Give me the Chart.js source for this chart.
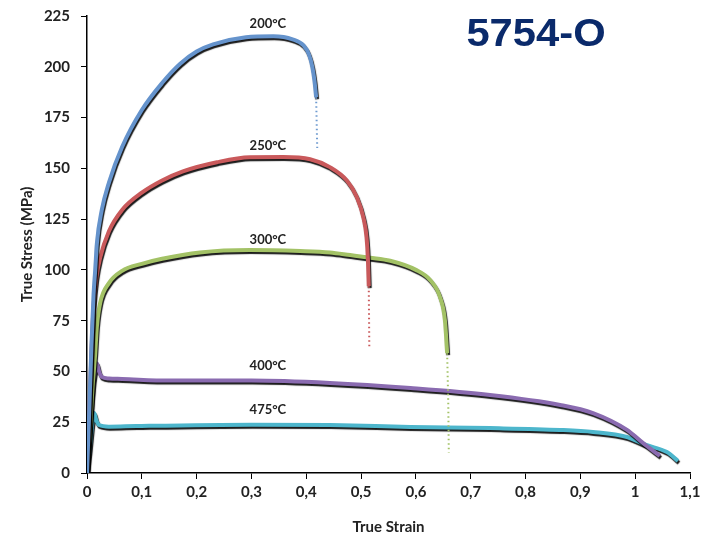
<!DOCTYPE html>
<html>
<head>
<meta charset="utf-8">
<script src="https://cdn.jsdelivr.net/npm/chart.js@4/dist/chart.umd.min.js"></script>
<style>
  body { margin: 0; background: #fff; }
</style>
</head>
<body>
<canvas id="myChart" width="709" height="536"></canvas>
<script>
// 200°C
const strain200 = [0, 0.004, 0.008, 0.012, 0.015, 0.018, 0.027, 0.040, 0.064, 0.10, 0.137, 0.17, 0.20, 0.23, 0.29, 0.34, 0.375, 0.395, 0.405, 0.411, 0.415, 0.418];
const stress200 = [0, 30, 62, 88, 100, 113, 129.5, 143, 160.5, 178.7, 192, 201.5, 207.5, 211, 214.5, 215, 213.5, 210.5, 206, 200, 193, 185];
const tailStrain200 = [0.418, 0.419, 0.42];
const tailStress200 = [185, 172, 160];

// 250°C
const strain250 = [0, 0.004, 0.008, 0.012, 0.017, 0.024, 0.040, 0.064, 0.10, 0.137, 0.175, 0.237, 0.297, 0.358, 0.407, 0.443, 0.474, 0.492, 0.504, 0.51, 0.5125, 0.514];
const stress250 = [0, 28, 58, 82, 96, 106, 119, 129.5, 138, 144, 148.5, 153, 155.5, 155.6, 154.5, 150.6, 144, 136, 126, 116, 105, 92];
const tailStrain250 = [0.514, 0.5145, 0.515];
const tailStress250 = [92, 77, 62];

// 300°C
const strain300 = [0, 0.005, 0.01, 0.013, 0.015, 0.018, 0.024, 0.04, 0.064, 0.1, 0.137, 0.206, 0.297, 0.389, 0.443, 0.48, 0.516, 0.553, 0.6, 0.626, 0.644, 0.653, 0.657];
const stress300 = [0, 20, 42, 52, 59, 72, 83.7, 93.5, 99.5, 103, 105.5, 108.6, 109.8, 109.3, 108.6, 107.3, 106, 104.5, 100, 95, 86.6, 75, 59];
const tailStrain300 = [0.657, 0.659, 0.66];
const tailStress300 = [59, 35, 10];

// 400°C
const strain400 = [0, 0.006, 0.012, 0.016, 0.018, 0.022, 0.027, 0.04, 0.064, 0.15, 0.3, 0.443, 0.59, 0.735, 0.863, 0.923, 0.985, 1.014, 1.045];
const stress400 = [0, 25, 45, 52, 54, 50, 47.3, 46.5, 46.3, 45.5, 45.5, 44.3, 41.8, 38.4, 33.5, 29.5, 21.2, 14.8, 8.4];

// 475°C
const strain475 = [0, 0.005, 0.01, 0.013, 0.017, 0.022, 0.04, 0.09, 0.3, 0.443, 0.59, 0.735, 0.863, 0.923, 0.985, 1.02, 1.058, 1.078];
const stress475 = [0, 12, 25, 29.5, 26, 23.6, 22.8, 23.1, 23.8, 23.6, 22.7, 22.1, 21.2, 20.2, 17.7, 13.8, 10.3, 5.9];

const labelText = ['200°C', '250°C', '300°C', '400°C', '475°C'];
const labelStrain = [0.33, 0.33, 0.33, 0.33, 0.33];
const labelStress = [221, 161, 114.7, 52.7, 31];

const xTicks = ['0', '0,1', '0,2', '0,3', '0,4', '0,5', '0,6', '0,7', '0,8', '0,9', '1', '1,1'];

const toPoints = (xs, ys) => xs.map((x, i) => ({ x: x, y: ys[i] }));

const curve = (xs, ys, color, order) => ({
    data: toPoints(xs, ys),
    borderColor: color,
    borderWidth: 4,
    pointRadius: 0,
    cubicInterpolationMode: 'monotone',
    shadow: true,
    order: order
});

const tail = (xs, ys, color, order) => ({
    data: toPoints(xs, ys),
    borderColor: color,
    borderWidth: 2,
    borderDash: [1.5, 3],
    pointRadius: 0,
    order: order
});

const shadowPlugin = {
    id: 'shadow',
    beforeDatasetDraw(chart, args) {
        const ctx = chart.ctx;
        ctx.save();
        if (chart.data.datasets[args.index].shadow) {
            ctx.shadowColor = 'rgba(0,0,0,0.9)';
            ctx.shadowOffsetX = 1;
            ctx.shadowOffsetY = 2;
            ctx.shadowBlur = 1;
        }
    },
    afterDatasetDraw(chart) {
        chart.ctx.restore();
    }
};

const textPlugin = {
    id: 'texts',
    afterDatasetsDraw(chart) {
        const ctx = chart.ctx;
        const xs = chart.scales.x;
        const ys = chart.scales.y;
        ctx.save();
        ctx.fillStyle = '#222';
        ctx.font = 'bold 13px Lato';
        ctx.textAlign = 'center';
        ctx.textBaseline = 'middle';
        labelText.forEach((t, i) => {
            ctx.fillText(t, xs.getPixelForValue(labelStrain[i]), ys.getPixelForValue(labelStress[i]));
        });
        // title, slightly wider than plain Arial bold
        ctx.fillStyle = '#0a2a6b';
        ctx.font = 'bold 39px "Liberation Sans", Arial';
        ctx.translate(536, 35);
        ctx.scale(1.07, 1);
        ctx.fillText('5754-O', 0, 0);
        ctx.restore();
    }
};

const tickFont = { family: 'Lato', size: 15, weight: 'bold' };

new Chart(document.getElementById('myChart'), {
    type: 'line',
    data: {
        datasets: [
            tail(tailStrain200, tailStress200, '#6f9bd0', 1),
            curve(strain200, stress200, '#6593cc', 2),
            tail(tailStrain250, tailStress250, '#c9595b', 3),
            curve(strain250, stress250, '#c9595b', 4),
            tail(tailStrain300, tailStress300, '#a3c266', 5),
            curve(strain300, stress300, '#a3c266', 6),
            curve(strain400, stress400, '#8a6bb0', 7),
            curve(strain475, stress475, '#4db6cc', 8)
        ]
    },
    options: {
        responsive: false,
        animation: false,
        layout: { padding: { top: 16, right: 19, left: 14, bottom: 0 } },
        plugins: { legend: { display: false }, tooltip: { enabled: false } },
        scales: {
            x: {
                type: 'linear',
                min: 0,
                max: 1.1,
                afterFit: (s) => { s.height = 63; s.paddingLeft = 0; s.paddingRight = 0; },
                afterBuildTicks: (s) => { s.ticks = xTicks.map((t, i) => ({ value: i / 10 })); },
                ticks: {
                    color: '#222',
                    font: tickFont,
                    padding: 4,
                    maxRotation: 0,
                    autoSkip: false,
                    callback: (v, i) => xTicks[i]
                },
                grid: { drawOnChartArea: false, color: '#000', tickLength: 6 },
                border: { color: '#000', width: 1.5 },
                title: { display: true, text: 'True Strain', color: '#222', font: tickFont, padding: { top: 0, bottom: 0 } }
            },
            y: {
                min: 0,
                max: 225,
                afterFit: (s) => { s.width = 73; s.paddingTop = 0; s.paddingBottom = 0; },
                ticks: { stepSize: 25, color: '#222', font: tickFont, padding: 11 },
                grid: { drawOnChartArea: false, color: '#000', tickLength: 6 },
                border: { color: '#000', width: 1.5 },
                title: { display: true, text: 'True Stress (MPa)', color: '#222', font: tickFont }
            }
        }
    },
    plugins: [shadowPlugin, textPlugin]
});
</script>
</body>
</html>
